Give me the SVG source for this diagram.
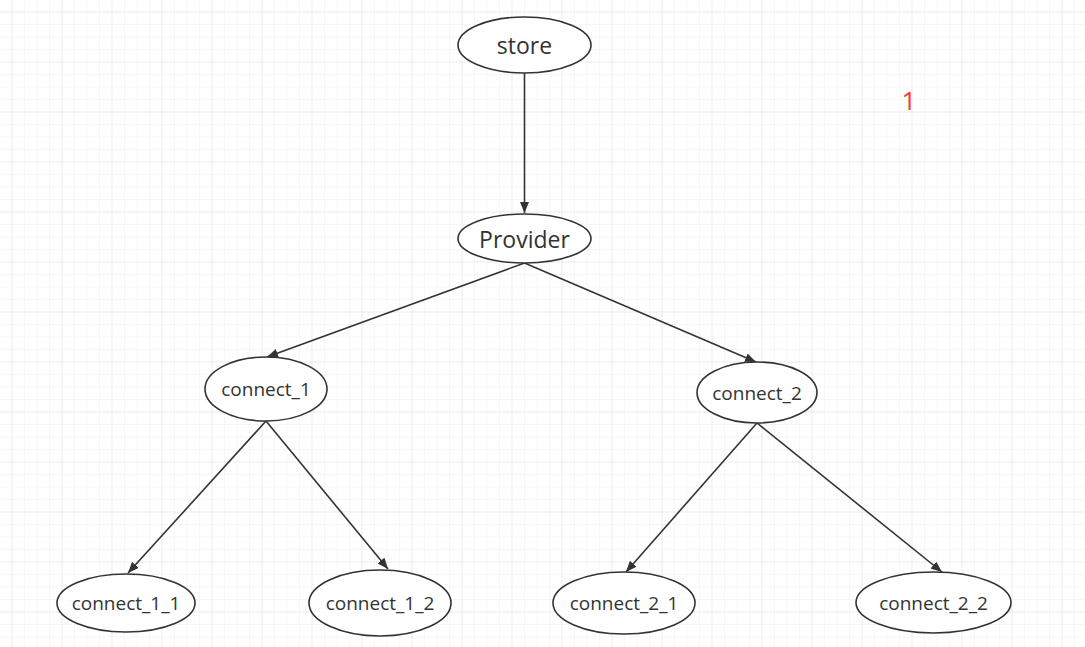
<svg xmlns="http://www.w3.org/2000/svg" width="1085" height="647" viewBox="0 0 1085 647">
<style>
.node ellipse{fill:#ffffff;stroke:#333333;stroke-width:1.6}
.node text{font-family:"Open Sans","Noto Sans",sans-serif;fill:#333333;text-anchor:middle;dominant-baseline:central}
.big{font-size:23px}
.small{font-size:19px}
.edge{stroke:#333333;stroke-width:1.6;fill:none;marker-end:url(#arr)}
</style>
<defs>
<pattern id="minor" width="12.5" height="12.5" patternUnits="userSpaceOnUse" x="11.5" y="11.5">
<path d="M0 0V12.5M0 0H12.5" stroke="#eeeeee" stroke-width="1" fill="none"/>
</pattern>
<pattern id="major" width="50" height="50" patternUnits="userSpaceOnUse" x="11.5" y="11.5">
<path d="M0 0V50M0 0H50" stroke="#e3e3e3" stroke-width="1" fill="none"/>
</pattern>
<marker id="arr" viewBox="0 0 10 10" refX="10" refY="5" markerWidth="11" markerHeight="9" markerUnits="userSpaceOnUse" orient="auto" preserveAspectRatio="none">
<path d="M0 0L10 5L0 10Z" fill="#333333"/>
</marker>
</defs>
<rect width="1085" height="647" fill="#ffffff"/>
<rect width="1085" height="647" fill="url(#minor)"/>
<rect width="1085" height="647" fill="url(#major)"/>
<g id="connectors">
<line class="edge" x1="524.5" y1="73" x2="524.5" y2="213"/>
<line class="edge" x1="524.5" y1="263" x2="267" y2="357"/>
<line class="edge" x1="524.5" y1="263" x2="756" y2="362"/>
<line class="edge" x1="266" y1="421" x2="128" y2="573"/>
<line class="edge" x1="266" y1="421" x2="388" y2="569"/>
<line class="edge" x1="757" y1="423" x2="626" y2="572"/>
<line class="edge" x1="757" y1="423" x2="942" y2="572"/>
</g>
<g id="store" class="node"><ellipse cx="524.5" cy="45" rx="66.5" ry="28"/><text class="big" x="524.5" y="45">store</text></g>
<g id="provider" class="node"><ellipse cx="524.5" cy="238.5" rx="66.5" ry="24.5"/><text class="big" x="524.5" y="238.5">Provider</text></g>
<g id="connect_1" class="node"><ellipse cx="266" cy="389" rx="61" ry="32"/><text class="small" x="266" y="389">connect_1</text></g>
<g id="connect_2" class="node"><ellipse cx="757" cy="392.5" rx="60" ry="30.5"/><text class="small" x="757" y="392.5">connect_2</text></g>
<g id="connect_1_1" class="node"><ellipse cx="126" cy="603" rx="69" ry="29"/><text class="small" x="126" y="603">connect_1_1</text></g>
<g id="connect_1_2" class="node"><ellipse cx="380" cy="603" rx="71" ry="33"/><text class="small" x="380" y="603">connect_1_2</text></g>
<g id="connect_2_1" class="node"><ellipse cx="624" cy="603" rx="71" ry="31"/><text class="small" x="624" y="603">connect_2_1</text></g>
<g id="connect_2_2" class="node"><ellipse cx="933.5" cy="602.5" rx="77.5" ry="30.5"/><text class="small" x="933.5" y="602.5">connect_2_2</text></g>
<text x="909" y="110" font-family="Open Sans,Noto Sans,sans-serif" font-size="26" fill="#ff3333" text-anchor="middle">1</text>
</svg>
